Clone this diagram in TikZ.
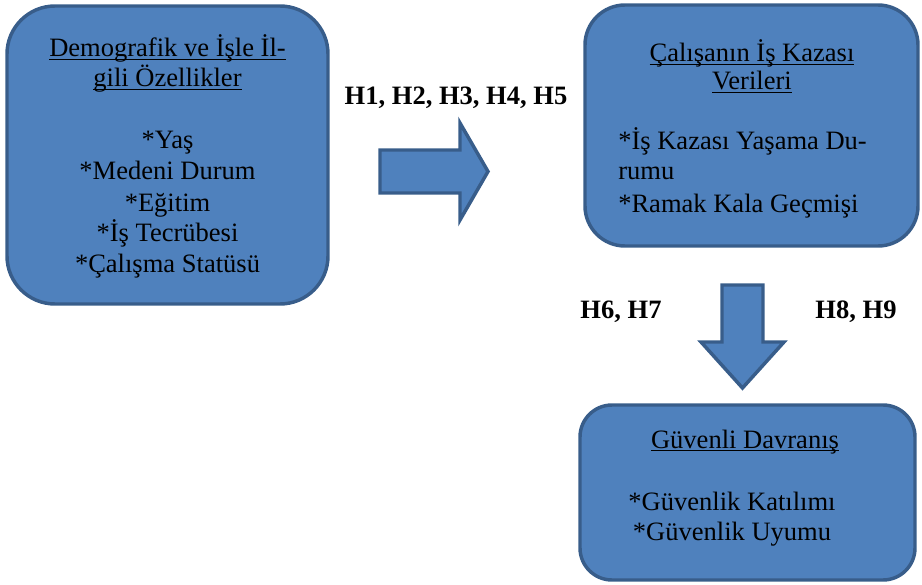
\documentclass[tikz,border=0pt]{standalone}
\usepackage{fontspec}
\setmainfont{Liberation Serif}
\definecolor{boxfill}{HTML}{4F81BD}
\definecolor{boxline}{HTML}{385D8A}
\newcommand\ulx[1]{\underline{\smash{#1}}}
\begin{document}
\begin{tikzpicture}[x=0.75pt,y=-0.75pt,
  font=\fontsize{19.9}{23}\selectfont,
  box/.style={draw=boxline, fill=boxfill, line width=2.6pt, inner sep=0pt},
  txt/.style={anchor=base, inner sep=0pt, text=black},
  lefttxt/.style={anchor=base west, inner sep=0pt, text=black},
  lbl/.style={anchor=base, inner sep=0pt, font=\fontsize{19.9}{23}\selectfont\bfseries},
  blockarrow/.style={draw=boxline, fill=boxfill, line width=2.6pt, line join=miter}]
\useasboundingbox (0,0) rectangle (922,585);

% boxes
\node[box, rounded corners=36pt, minimum width=240.75pt, minimum height=223.5pt] (demo) at (167.5,155) {};
\node[box, rounded corners=30pt, minimum width=249.75pt, minimum height=180.75pt] (kaza) at (751.5,125.5) {};
\node[box, rounded corners=24pt, minimum width=251.25pt, minimum height=131.25pt] (guv) at (747.5,492.5) {};

% block arrows
\draw[blockarrow] (380,150) -- (460,150) -- (460,123) -- (488,171.5) -- (460,220) -- (460,193) -- (380,193) -- cycle;
\draw[blockarrow] (722,285) -- (763,285) -- (763,342) -- (784,342) -- (742.5,388) -- (701,342) -- (722,342) -- cycle;

% labels
\node[lbl] (h15) at (456,105) {H1, H2, H3, H4, H5};
\node[lbl] (h67) at (621,318) {H6, H7};
\node[lbl] (h89) at (856,318) {H8, H9};

% box 1 text
\node[txt] (d1) at (167.5,57) {\ulx{Demografik ve İşle İl-}};
\node[txt] (d2) at (167.5,87) {\ulx{gili Özellikler}};
\node[txt] (d3) at (167.5,149) {*Yaş};
\node[txt] (d4) at (167.5,180) {*Medeni Durum};
\node[txt] (d5) at (167.5,211) {*Eğitim};
\node[txt] (d6) at (167.5,241) {*İş Tecrübesi};
\node[txt] (d7) at (167.5,272) {*Çalışma Statüsü};

% box 2 text
\node[txt] (k1) at (752,62) {\ulx{Çalışanın İş Kazası}};
\node[txt] (k2) at (752,90) {\ulx{Verileri}};
\node[lefttxt] (k3) at (618,150) {*İş Kazası Yaşama Du-};
\node[lefttxt] (k4) at (618,180) {rumu};
\node[lefttxt] (k5) at (618,212) {*Ramak Kala Geçmişi};

% box 3 text
\node[txt] (g1) at (745,448) {\ulx{Güvenli Davranış}};
\node[txt] (g2) at (732,510) {*Güvenlik Katılımı};
\node[txt] (g3) at (732,540) {*Güvenlik Uyumu};
\end{tikzpicture}
\end{document}
